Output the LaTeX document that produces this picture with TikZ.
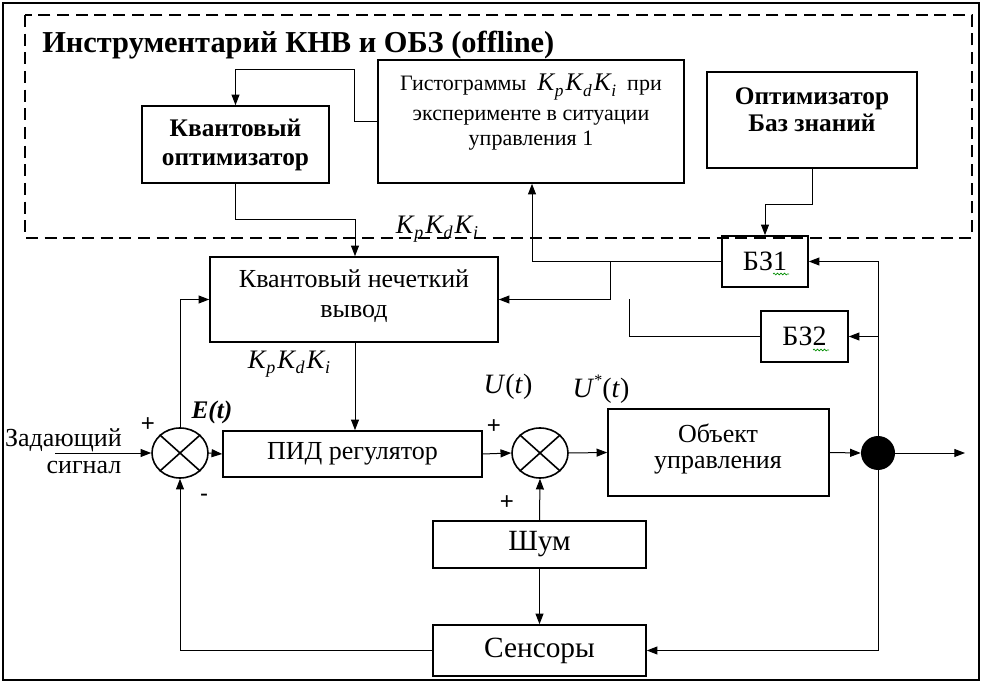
\documentclass[tikz,border=0pt]{standalone}
\usepackage{fontspec}
\setmainfont{Liberation Serif}
\newfontfamily\sansf{Liberation Sans}
\usetikzlibrary{arrows.meta,shapes.geometric,fit,decorations.pathmorphing}
% K_p K_d K_i with explicit sizes: #1 = size of K, #2 = size of subscripts
\newcommand{\kpdk}[2]{{\itshape\fontsize{#1}{#1}\selectfont K\kern0.5pt\raisebox{-0.45ex}{\fontsize{#2}{#2}\selectfont p}\kern1.5pt K\kern0.5pt\raisebox{-0.45ex}{\fontsize{#2}{#2}\selectfont d}\kern1.5pt K\kern0.5pt\raisebox{-0.45ex}{\fontsize{#2}{#2}\selectfont i}}}
\begin{document}
\begin{tikzpicture}[x=0.75pt,y=-0.75pt,
  box/.style={draw,line width=1.2pt,inner sep=0pt,align=center},
  ln/.style={line width=0.75pt},
  ar/.style={ln,-{Triangle[length=8pt,width=6pt]}},
  txt/.style={font=\fontsize{19.5}{22.5}\selectfont,align=center,inner sep=0pt},
  btxt/.style={font=\fontsize{19}{22}\selectfont\bfseries,align=center,inner sep=0pt},
  htxt/.style={font=\fontsize{16.5}{18}\selectfont,inner sep=0pt},
  summer/.style={draw,ellipse,line width=1.2pt,minimum width=42pt,minimum height=37.5pt,inner sep=0pt},
  sgn/.style={font=\sansf\fontsize{18}{20}\selectfont,inner sep=0pt},
  squig/.style={green!55!black,line width=0.5pt,decorate,decoration={snake,amplitude=0.7pt,segment length=2.6pt}}
]
\useasboundingbox (0,0) rectangle (982,684);
% outer frame
\draw[line width=1.1pt] (3,3) rectangle (979,680);
% dashed region
\draw[line width=1.5pt,dash pattern=on 9pt off 5pt] (25,15) rectangle (972,238);
\node[anchor=west,inner sep=0pt,font=\fontsize{22.8}{24}\selectfont\bfseries] (title) at (42,45) {Инструментарий КНВ и ОБЗ (offline)};

% boxes
\node[box,fit={(142,106) (329,183)}] (qopt) {};
\node[btxt] (qoptt) at (235.5,145) {Квантовый\\оптимизатор};
\node[box,fit={(378,60) (684,183)}] (hist) {};
\node[htxt] (histt1) at (531,87) {Гистограммы \ \kpdk{19}{13}\ \ при};
\node[htxt] (histt2) at (531,118) {эксперименте в ситуации};
\node[htxt] (histt3) at (531,141) {управления 1};
\node[box,fit={(707,72) (917,168)}] (kbopt) {};
\node[btxt,font=\fontsize{19}{20}\selectfont\bfseries] (kboptt) at (812,110) {Оптимизатор\\Баз знаний};
\node[box,fit={(722,236) (808,287)}] (bz1) {};
\node[txt,font=\fontsize{21}{24}\selectfont] (bz1t) at (bz1.center) {БЗ1};
\node[box,fit={(761,311) (848,362)}] (bz2) {};
\node[txt,font=\fontsize{21}{24}\selectfont] (bz2t) at (bz2.center) {БЗ2};
\node[box,fit={(210,257) (498,342)}] (qfi) {};
\node[txt] (qfit) at (354,296) {Квантовый нечеткий\\вывод};
\node[box,fit={(223,431) (482,477)}] (pid) {};
\node[txt] (pidt) at (pid.center) {ПИД регулятор};
\node[box,fit={(608,409) (829,496)}] (obj) {};
\node[txt,font=\fontsize{19.5}{20}\selectfont] (objt) at (718,449) {Объект\\управления};
\node[box,fit={(433,521) (646,568)}] (noise) {};
\node[txt,font=\fontsize{22}{24}\selectfont] (noiset) at (noise.center) {Шум};
\node[box,fit={(433,625) (646,676)}] (sens) {};
\node[txt,font=\fontsize{22}{24}\selectfont] (senst) at (sens.center) {Сенсоры};

% summers and junction
\node[summer] (s1) at (180,453) {};
\draw[line width=1.2pt] (s1.north west) -- (s1.south east) (s1.north east) -- (s1.south west);
\node[summer] (s2) at (540,453) {};
\draw[line width=1.2pt] (s2.north west) -- (s2.south east) (s2.north east) -- (s2.south west);
\node[circle,fill=black,minimum size=25.5pt,inner sep=0pt] (dot) at (878,453) {};

% input
\coordinate (inp) at (55,453);
\node[txt,anchor=east] (inl1) at (122,440) {Задающий};
\node[txt] (inl2) at (84,468) {сигнал};
\coordinate (outp) at (965,453);

% labels
\node[txt] (kt) at (437,229) {\kpdk{20}{13.5}};
\node[txt] (kb) at (289,364) {\kpdk{20}{13.5}};
\node[txt,font=\fontsize{19}{22}\selectfont\bfseries\itshape] (et) at (212,412) {E(t)};
\node[txt,font=\fontsize{21}{22}\selectfont] (ut) at (508,387) {\textit{U}(\textit{t})};
\node[txt,font=\fontsize{21}{22}\selectfont] (ust) at (601,389) {\textit{U}\raisebox{0.9ex}{\fontsize{12}{12}\selectfont *}(\textit{t})};
\node[sgn] (p1) at (148,425) {+};
\node[sgn] (p2) at (494,427) {+};
\node[sgn] (p3) at (507,503) {+};
\node[sgn] (m1) at (204,498) {-};

% squiggles
\draw[squig] (773,274) -- (789,274);
\draw[squig] (813,350) -- (829,350);

% connectors
\draw[ar] (hist.west) -- (354,121.5) -- (354,70) -| (qopt.north);
\draw[ar] (qopt.south) |- (355,220) -- (355,0 |- qfi.north);
\draw[ar] (kbopt.south) |- (765,205) -- (bz1.north);
\draw[ar] (bz1.west) -| (532,0 |- hist.south);
\draw[ar] (610,261.5) |- (qfi.east);
\draw[ln] (bz2.west) -| (629,299.5);
\draw[ln] (dot.north) -- (878,261.5);
\draw[ar] (878,261.5) -- (bz1.east);
\draw[ar] (878,336.5) -- (bz2.east);
\draw[ar] (dot.south) |- (sens.east);
\draw[ar] (inp) -- (s1.west);
\draw[ar] (s1.east) -- (pid.west);
\draw[ar] (pid.east) -- (s2.west);
\draw[ar] (s2.east) -- (obj.west);
\draw[ar] (obj.east) -- (dot.west);
\draw[ar] (dot.east) -- (outp);
\draw[ar] (s1.north) |- (qfi.west);
\draw[ar] (355,0 |- qfi.south) -- (355,0 |- pid.north);
\draw[ar] (noise.north) -- (s2.south);
\draw[ar] (noise.south) -- (sens.north);
\draw[ar] (sens.west) -| (s1.south);
\end{tikzpicture}
\end{document}
